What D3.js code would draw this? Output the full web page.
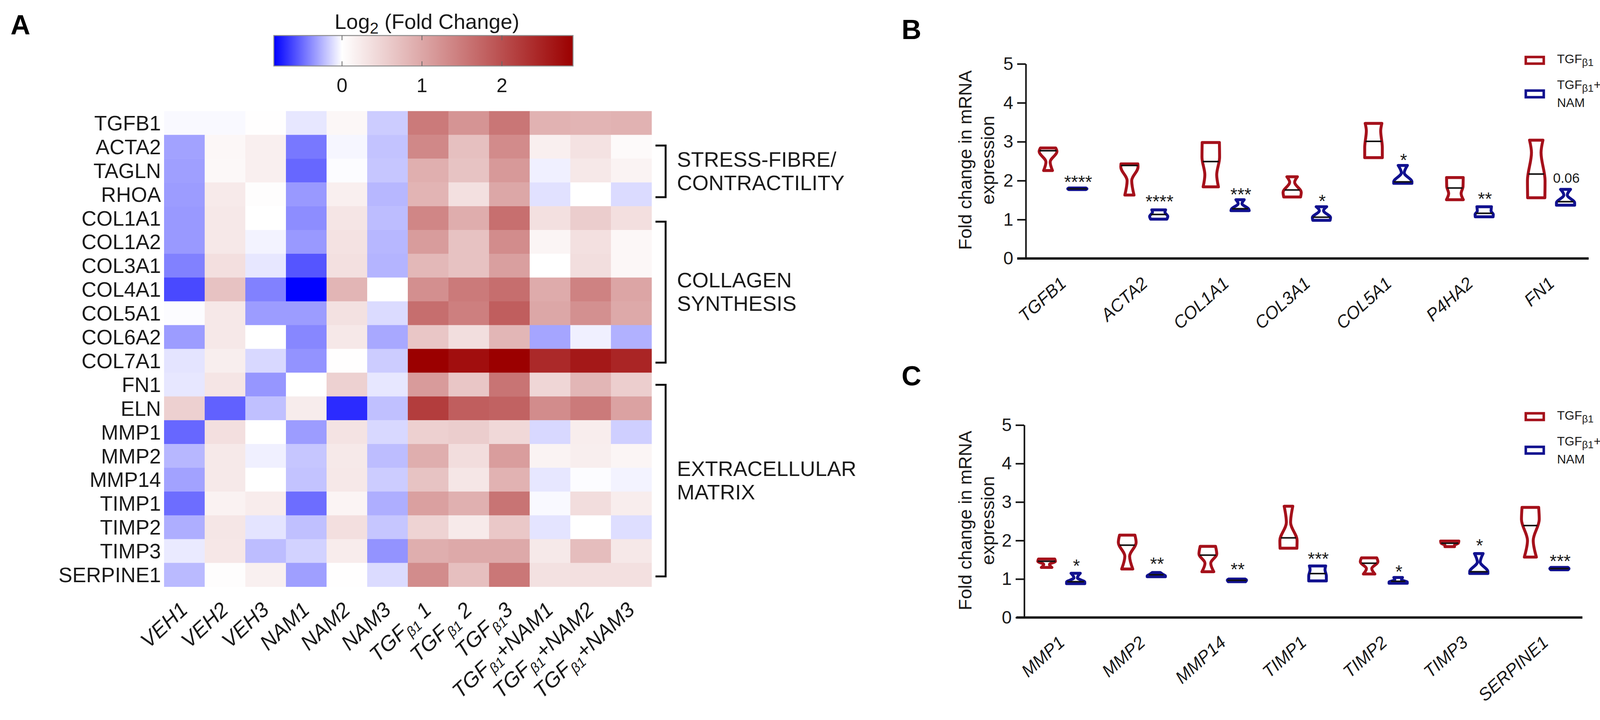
<!doctype html>
<html>

<head>
    <meta charset="UTF-8">
    <title>fold change</title>
    <script src="https://d3js.org/d3.v7.min.js"></script>
    <style>
        body {
            margin: 0;
            background: #fff;
        }

        text {
            font-family: "Liberation Sans", Arial, sans-serif;
            fill: #1a1a1a;
        }
    </style>
</head>

<body>
    <svg id="fig" width="4113" height="1844"></svg>
    <script>
        // panel A
        var rowLabels = ["TGFB1", "ACTA2", "TAGLN", "RHOA", "COL1A1", "COL1A2", "COL3A1", "COL4A1", "COL5A1", "COL6A2",
            "COL7A1", "FN1", "ELN", "MMP1", "MMP2", "MMP14", "TIMP1", "TIMP2", "TIMP3", "SERPINE1"];
        var colLabels = ["VEH1", "VEH2", "VEH3", "NAM1", "NAM2", "NAM3", "TGF_β1_ 1", "TGF_β1_ 2", "TGF_β1_3",
            "TGF_β1_+NAM1", "TGF_β1_+NAM2", "TGF_β1_+NAM3"];
        var heatValues = [
            [-.02, -.02, .01, -.08, .09, -.17, 1.51, 1.21, 1.55, .87, .85, .87],
            [-.31, .09, .18, -.45, -.03, -.2, 1.35, .71, 1.31, .18, .33, .06],
            [-.32, .08, .18, -.51, -.01, -.19, .91, .68, 1.16, -.05, .26, .14],
            [-.33, .24, .02, -.34, .18, -.24, .85, .35, 1.0, -.1, 0, -.12],
            [-.34, .26, 0, -.38, .29, -.22, 1.37, .93, 1.63, .35, .57, .36],
            [-.34, .26, -.04, -.34, .33, -.24, 1.12, .69, 1.3, .11, .35, .09],
            [-.42, .36, -.08, -.57, .35, -.25, .81, .69, 1.09, 0, .37, .09],
            [-.61, .69, -.42, -.85, .84, 0, 1.27, 1.51, 1.64, .95, 1.42, 1.02],
            [-.01, .26, -.33, -.33, .34, -.12, 1.64, 1.45, 1.82, 1.0, 1.26, .98],
            [-.33, .26, 0, -.4, .26, -.29, .65, .37, .83, -.3, -.05, -.26],
            [-.09, .19, -.13, -.36, .01, -.17, 2.89, 2.73, 2.89, 2.42, 2.62, 2.47],
            [-.08, .3, -.35, 0, .52, -.08, 1.13, .65, 1.58, .47, .83, .55],
            [.53, -.53, -.21, .22, -.71, -.21, 2.2, 1.83, 1.78, 1.3, 1.51, 1.05],
            [-.51, .36, 0, -.33, .32, -.13, .53, .57, .44, -.13, .2, -.16],
            [-.24, .25, -.05, -.19, .25, -.22, .92, .38, 1.11, .14, .19, .11],
            [-.31, .25, 0, -.2, .26, -.17, .68, .28, .87, -.08, -.01, -.04],
            [-.49, .15, .21, -.49, .12, -.27, 1.08, .9, 1.58, -.02, .39, .2],
            [-.27, .28, -.09, -.21, .36, -.19, .5, .24, .62, -.09, 0, -.11],
            [-.07, .27, -.22, -.15, .21, -.36, .92, .97, .97, .25, .75, .26],
            [-.23, .02, .17, -.32, .01, -.12, 1.3, .73, 1.54, .34, .35, .35]
        ];
        var colorDomain = [-.853, 0, 2.89];
        var colorRange = ["#0000ff", "#ffffff", "#9b0000"];
        var colorTicks = [0, 1, 2];
        var groupNames = ["STRESS-FIBRE/|CONTRACTILITY", "COLLAGEN|SYNTHESIS", "EXTRACELLULAR|MATRIX"];
        var groupFrom = ["ACTA2", "COL1A1", "FN1"];
        var groupTo = ["RHOA", "COL7A1", "SERPINE1"];

        // panels B and C, each violin is a list of [fold change, relative width]
        var yTicks = [0, 1, 2, 3, 4, 5];
        var seriesNames = ["TGF_β1", "TGF_β1_+|NAM"];

        var bGenes = ["TGFB1", "ACTA2", "COL1A1", "COL3A1", "COL5A1", "P4HA2", "FN1"];
        var bRed = [
            [[2.84, .8], [2.75, .93], [2.48, .22], [2.26, .46]],
            [[2.43, .88], [2.35, .9], [2.0, .24], [1.63, .48]],
            [[2.98, .9], [2.6, .92], [2.15, .62], [1.84, .8]],
            [[2.1, .55], [1.96, .26], [1.7, .95], [1.58, .88]],
            [[3.47, .87], [3.28, .75], [2.85, .92], [2.59, .92]],
            [[2.08, .87], [1.85, .85], [1.67, .65], [1.51, .88]],
            [[3.04, .7], [2.72, .5], [2.0, .92], [1.56, .9]]
        ];
        var bBlue = [
            [[1.81, .9], [1.79, 1], [1.77, .9]],
            [[1.25, .72], [1.19, .65], [1.08, .95], [1.01, .85]],
            [[1.51, .43], [1.41, .2], [1.27, .9], [1.23, .95]],
            [[1.33, .55], [1.23, .22], [1.05, .95], [.98, .9]],
            [[2.39, .48], [2.2, .15], [1.97, .95], [1.93, .95]],
            [[1.33, .76], [1.22, .72], [1.13, .95], [1.07, .93]],
            [[1.775, .52], [1.63, .18], [1.43, .95], [1.37, .95]]
        ];
        var bRedMedian = [2.77, 2.39, 2.49, 1.76, 3.01, 1.81, 2.17];
        var bBlueMedian = [1.79, 1.13, 1.28, 1.06, 1.97, 1.16, 1.46];
        var bSig = ["****", "****", "***", "*", "*", "**", "0.06"];
        var bSigAt = [2.07, 1.56, 1.75, 1.58, 2.63, 1.64, 2.06];

        var cGenes = ["MMP1", "MMP2", "MMP14", "TIMP1", "TIMP2", "TIMP3", "SERPINE1"];
        var cRed = [
            [[1.52, .85], [1.46, .92], [1.38, .3], [1.3, .55]],
            [[2.14, .8], [1.95, .93], [1.59, .25], [1.26, .58]],
            [[1.85, .8], [1.65, .93], [1.41, .3], [1.19, .62]],
            [[2.89, .45], [2.47, .22], [2.0, .9], [1.8, .88]],
            [[1.55, .8], [1.45, .92], [1.27, .28], [1.13, .6]],
            [[1.985, .95], [1.93, .9], [1.88, .5], [1.84, .5]],
            [[2.86, .87], [2.55, .93], [2.0, .3], [1.57, .63]]
        ];
        var cBlue = [
            [[1.15, .48], [1.03, .18], [.92, .95], [.88, .95]],
            [[1.17, .42], [1.12, .7], [1.08, .95], [1.06, .95]],
            [[1.0, .85], [.97, 1], [.93, .9]],
            [[1.34, .85], [1.24, .78], [1.08, .92], [.95, .92]],
            [[1.04, .45], [.98, .35], [.92, .95], [.89, .95]],
            [[1.66, .45], [1.44, .15], [1.19, .95], [1.145, .95]],
            [[1.3, .9], [1.27, 1], [1.24, .9]]
        ];
        var cRedMedian = [1.46, 1.88, 1.62, 2.07, 1.41, 1.93, 2.39];
        var cBlueMedian = [.93, 1.11, .965, 1.14, .94, 1.19, 1.27];
        var cSig = ["*", "**", "**", "***", "*", "*", "***"];
        var cSigAt = [1.45, 1.495, 1.35, 1.63, 1.29, 1.97, 1.57];

        var svg = d3.select("#fig");

        // "TGF_β1_+NAM": pieces between underscores are subscripts
        function richText(sel, str, size, ratio) {
            var parts = str.split("_");
            var shift = 0;
            parts.forEach(function (p, i) {
                if (p === "") return;
                var isSub = i % 2 === 1;
                var dy = (isSub ? size * .22 : 0) - shift;
                shift = isSub ? size * .22 : 0;
                sel.append("tspan")
                    .attr("dy", dy)
                    .attr("font-size", isSub ? size * (ratio || .66) : size)
                    .attr("xml:space", "preserve")
                    .text(p);
            });
            return sel;
        }

        function panelLetter(s, x, y) {
            svg.append("text").attr("x", x).attr("y", y)
                .attr("font-size", 70).attr("font-weight", "bold").style("fill", "#000").text(s);
        }

        panelLetter("A", 27, 88);
        panelLetter("B", 2308, 100);
        panelLetter("C", 2308, 987);

        drawHeatmap();
        drawColorbar();
        drawViolins({
            genes: bGenes, red: bRed, blue: bBlue, redMedian: bRedMedian, blueMedian: bBlueMedian, sig: bSig, sigAt: bSigAt,
            axisX: 2626, axisLeft: 2604, axisRight: 4067, y0: 662, y5: 163.6, first: 2720.5, step: 208.3, offset: 37.5,
            titleY: 410, legendY: 154
        });
        drawViolins({
            genes: cGenes, red: cRed, blue: cBlue, redMedian: cRedMedian, blueMedian: cBlueMedian, sig: cSig, sigAt: cSigAt,
            axisX: 2622, axisLeft: 2602, axisRight: 4051, y0: 1581.5, y5: 1088.6, first: 2716.5, step: 206.4, offset: 37.2,
            titleY: 1333, legendY: 1066.5
        });

        function drawHeatmap() {
            var x = d3.scaleBand().domain(d3.range(colLabels.length)).range([420, 1668]);
            var y = d3.scaleBand().domain(rowLabels).range([284.5, 1502.5]);
            var color = d3.scaleLinear().domain(colorDomain).range(colorRange);

            var g = svg.append("g");
            var rows = g.selectAll("g.row").data(heatValues).enter().append("g").attr("class", "row");
            rows.selectAll("rect").data(function (d, i) {
                return d.map(function (v, j) {
                    return { v: v, j: j, r: rowLabels[i] };
                });
            }).enter().append("rect")
                .attr("x", function (d) { return x(d.j); })
                .attr("y", function (d) { return y(d.r); })
                .attr("width", x.bandwidth() + .5)
                .attr("height", y.bandwidth() + .5)
                .attr("fill", function (d) { return color(d.v); });

            g.selectAll("text.row").data(rowLabels).enter().append("text")
                .attr("class", "row")
                .attr("x", 412)
                .attr("y", function (d) { return y(d) + y.bandwidth() / 2 + 19; })
                .attr("text-anchor", "end")
                .attr("font-size", 53)
                .text(function (d) { return d; });

            g.selectAll("text.col").data(colLabels).enter().append("text")
                .attr("class", "col")
                .attr("text-anchor", "end")
                .attr("font-style", "italic")
                .attr("transform", function (d, i) {
                    return "translate(" + (x(i) + x.bandwidth() / 2 + 12) + ",1566) rotate(-43)";
                })
                .each(function (d) { richText(d3.select(this), d, 54); });

            // brackets, the ends sit part way down a row
            var topFrac = [.45, .65, .51];
            var bottomFrac = [.62, .58, .57];
            groupNames.forEach(function (name, i) {
                var top = y(groupFrom[i]) + y.bandwidth() * topFrac[i];
                var bottom = y(groupTo[i]) + y.bandwidth() * bottomFrac[i];
                g.append("path")
                    .attr("d", d3.line()([[1678, top], [1704, top], [1704, bottom], [1678, bottom]]))
                    .attr("fill", "none").attr("stroke", "#111").attr("stroke-width", 5);
                var mid = (top + bottom) / 2;
                name.split("|").forEach(function (t, k) {
                    g.append("text")
                        .attr("x", 1733)
                        .attr("y", mid + (k === 0 ? -12 : 48))
                        .attr("font-size", 54)
                        .text(t);
                });
            });
        }

        function drawColorbar() {
            var x = d3.scaleLinear().domain([colorDomain[0], colorDomain[2]]).range([701, 1467]);
            var color = d3.scaleLinear().domain(colorDomain).range(colorRange);
            var top = 91, bottom = 169;

            var grad = svg.append("defs").append("linearGradient").attr("id", "bar");
            colorDomain.forEach(function (v) {
                grad.append("stop")
                    .attr("offset", (x(v) - 701) / (1467 - 701))
                    .attr("stop-color", color(v));
            });
            svg.append("rect")
                .attr("x", 701).attr("y", top).attr("width", 766).attr("height", bottom - top)
                .attr("fill", "url(#bar)").attr("stroke", "#8c8c8c").attr("stroke-width", 2.5);

            colorTicks.forEach(function (t) {
                svg.append("line").attr("x1", x(t)).attr("x2", x(t)).attr("y1", top).attr("y2", top + 12)
                    .attr("stroke", "#666").attr("stroke-width", 2);
                svg.append("line").attr("x1", x(t)).attr("x2", x(t)).attr("y1", bottom - 12).attr("y2", bottom)
                    .attr("stroke", "#666").attr("stroke-width", 2);
                svg.append("text").attr("x", x(t)).attr("y", 236)
                    .attr("text-anchor", "middle").attr("font-size", 50).text(t);
            });

            var title = svg.append("text").attr("x", 1093).attr("y", 74)
                .attr("text-anchor", "middle");
            richText(title, "Log_2_ (Fold Change)", 54, .75);
        }

        function drawViolins(p) {
            var y = d3.scaleLinear().domain([0, 5]).range([p.y0, p.y5]);
            var group = d3.scalePoint().domain(p.genes).range([p.first, p.first + p.step * (p.genes.length - 1)]);
            var side = d3.scaleOrdinal().domain(["red", "blue"]).range([-p.offset, p.offset]);
            var halfWidth = d3.scaleLinear().domain([0, 1]).range([0, 24.5]);
            var colors = { red: "#a5111b", blue: "#11118f" };

            var g = svg.append("g");

            // axes
            var yAxis = g.append("g")
                .attr("transform", "translate(" + p.axisX + ",0)")
                .call(d3.axisLeft(y).tickValues(yTicks).tickFormat(d3.format("d")).tickSize(22).tickPadding(10).tickSizeOuter(0));
            yAxis.select(".domain").attr("stroke", "#111").attr("stroke-width", 4);
            yAxis.selectAll(".tick line").attr("stroke", "#111").attr("stroke-width", 4);
            yAxis.selectAll("text").attr("font-size", 46);

            g.append("line")
                .attr("x1", p.axisLeft).attr("x2", p.axisRight)
                .attr("y1", y(0)).attr("y2", y(0))
                .attr("stroke", "#111").attr("stroke-width", 6);

            ["Fold change in mRNA", "expression"].forEach(function (t, i) {
                g.append("text")
                    .attr("transform", "translate(" + (2487 + i * 58) + "," + p.titleY + ") rotate(-90)")
                    .attr("text-anchor", "middle")
                    .attr("font-size", 47)
                    .text(t);
            });

            // violins
            var area = d3.area()
                .curve(d3.curveMonotoneY)
                .y(function (d) { return y(d[0]); });

            function violin(name, data, medians) {
                data.forEach(function (prof, i) {
                    var cx = group(p.genes[i]) + side(name);
                    area.x0(function (d) { return cx - halfWidth(d[1]); })
                        .x1(function (d) { return cx + halfWidth(d[1]); });
                    g.append("path")
                        .attr("d", area(prof))
                        .attr("fill", "#fff")
                        .attr("stroke", colors[name])
                        .attr("stroke-width", 7.5)
                        .attr("stroke-linejoin", "round");
                    var wAt = d3.scaleLinear().domain(prof.map(function (d) { return d[0]; }))
                        .range(prof.map(function (d) { return d[1]; }));
                    var w = halfWidth(wAt(medians[i]));
                    g.append("line")
                        .attr("x1", cx - w).attr("x2", cx + w)
                        .attr("y1", y(medians[i])).attr("y2", y(medians[i]))
                        .attr("stroke", "#111").attr("stroke-width", 4);
                });
            }
            violin("red", p.red, p.redMedian);
            violin("blue", p.blue, p.blueMedian);

            // significance marks
            p.sig.forEach(function (s, i) {
                var isStars = s.charAt(0) === "*";
                g.append("text")
                    .attr("x", group(p.genes[i]) + side("blue") + 2)
                    .attr("y", y(p.sigAt[i]) + (isStars ? 26 : 11))
                    .attr("text-anchor", "middle")
                    .attr("font-size", isStars ? 46 : 35)
                    .text(s);
            });

            // gene labels
            g.selectAll("text.gene").data(p.genes).enter().append("text")
                .attr("class", "gene")
                .attr("text-anchor", "end")
                .attr("font-style", "italic")
                .attr("font-size", 45)
                .attr("transform", function (d) {
                    return "translate(" + (group(d) + 12) + "," + (y(0) + 68) + ") rotate(-42)";
                })
                .text(function (d) { return d; });

            // legend
            [["red", 0], ["blue", 86]].forEach(function (l) {
                g.append("rect")
                    .attr("x", 3906).attr("y", p.legendY - 8 + l[1])
                    .attr("width", 46).attr("height", 17)
                    .attr("fill", "#fff").attr("stroke", colors[l[0]]).attr("stroke-width", 6.5);
            });
            var leg1 = g.append("text").attr("x", 3986).attr("y", p.legendY + 8);
            richText(leg1, seriesNames[0], 32, .82);
            var second = seriesNames[1].split("|");
            var leg2 = g.append("text").attr("x", 3986).attr("y", p.legendY + 74);
            richText(leg2, second[0], 32, .82);
            g.append("text").attr("x", 3986).attr("y", p.legendY + 120).attr("font-size", 32).text(second[1]);
        }
    </script>
</body>

</html>
